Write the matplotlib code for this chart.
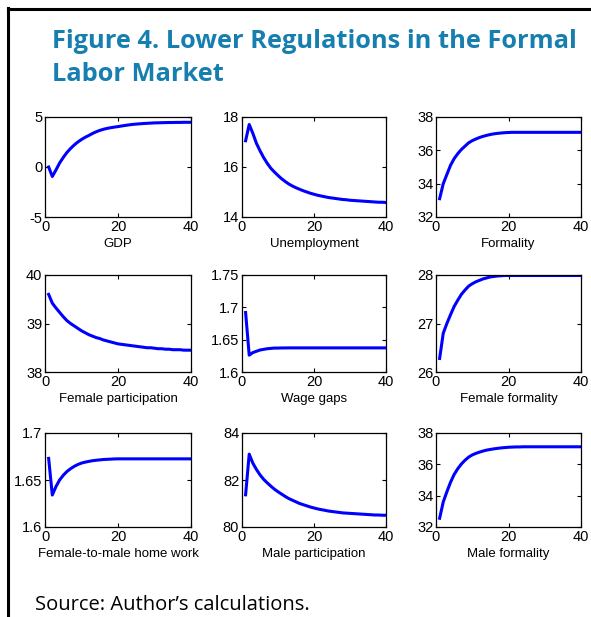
import numpy as np
import matplotlib
matplotlib.use("Agg")
import matplotlib.pyplot as plt
from matplotlib.lines import Line2D

# Impulse responses, periods 1..40
periods = np.arange(1, 41)

gdp = [0.0, -0.95, -0.3, 0.4, 0.95, 1.45, 1.85, 2.2, 2.5, 2.75,
       2.97, 3.15, 3.35, 3.52, 3.66, 3.77, 3.86, 3.93, 3.99, 4.04,
       4.1, 4.16, 4.21, 4.26, 4.29, 4.32, 4.35, 4.37, 4.39, 4.41,
       4.42, 4.43, 4.44, 4.45, 4.45, 4.46, 4.46, 4.47, 4.47, 4.47]
unemployment = [17.05, 17.7, 17.35, 16.95, 16.65, 16.38, 16.15, 15.95, 15.8, 15.66,
                15.53, 15.42, 15.32, 15.24, 15.17, 15.11, 15.05, 15.0, 14.95, 14.91,
                14.87, 14.84, 14.81, 14.78, 14.76, 14.74, 14.72, 14.7, 14.69, 14.67,
                14.66, 14.65, 14.64, 14.63, 14.62, 14.61, 14.6, 14.59, 14.59, 14.58]
formality = [33.1, 34.0, 34.55, 35.1, 35.5, 35.8, 36.05, 36.25, 36.45, 36.58,
             36.68, 36.77, 36.84, 36.9, 36.95, 36.99, 37.02, 37.04, 37.06, 37.07,
             37.08, 37.08, 37.08, 37.08, 37.08, 37.08, 37.08, 37.08, 37.08, 37.08,
             37.08, 37.08, 37.08, 37.08, 37.08, 37.08, 37.08, 37.08, 37.08, 37.08]
female_participation = [39.6, 39.42, 39.32, 39.23, 39.14, 39.06, 39.0, 38.95, 38.9, 38.85,
                        38.81, 38.77, 38.74, 38.71, 38.69, 38.66, 38.64, 38.62, 38.6, 38.58,
                        38.57, 38.56, 38.55, 38.54, 38.53, 38.52, 38.51, 38.5, 38.5, 38.49,
                        38.48, 38.48, 38.47, 38.47, 38.46, 38.46, 38.46, 38.45, 38.45, 38.45]
wage_gaps = [1.692, 1.626, 1.630, 1.632, 1.634, 1.635, 1.636, 1.6365, 1.637, 1.637,
             1.6372, 1.6372, 1.6373, 1.6373, 1.6373, 1.6373, 1.6373, 1.6373, 1.6373, 1.6373,
             1.6373, 1.6373, 1.6373, 1.6373, 1.6373, 1.6373, 1.6373, 1.6373, 1.6373, 1.6373,
             1.6373, 1.6373, 1.6373, 1.6373, 1.6373, 1.6373, 1.6373, 1.6373, 1.6373, 1.6373]
female_formality = [26.28, 26.8, 27.0, 27.18, 27.35, 27.48, 27.6, 27.69, 27.77, 27.82,
                    27.86, 27.89, 27.92, 27.94, 27.96, 27.97, 27.98, 27.985, 27.99, 27.99,
                    27.99, 27.99, 27.99, 27.99, 27.99, 27.99, 27.99, 27.99, 27.99, 27.99,
                    27.99, 27.99, 27.99, 27.99, 27.99, 27.99, 27.99, 27.99, 27.99, 27.99]
home_work = [1.673, 1.634, 1.643, 1.650, 1.655, 1.659, 1.662, 1.6645, 1.6665, 1.668,
             1.669, 1.6698, 1.6705, 1.671, 1.6714, 1.6718, 1.672, 1.6722, 1.6724, 1.6725,
             1.6725, 1.6725, 1.6725, 1.6725, 1.6725, 1.6725, 1.6725, 1.6725, 1.6725, 1.6725,
             1.6725, 1.6725, 1.6725, 1.6725, 1.6725, 1.6725, 1.6725, 1.6725, 1.6725, 1.6725]
male_participation = [81.37, 83.1, 82.72, 82.45, 82.22, 82.03, 81.88, 81.74, 81.61, 81.5,
                      81.4, 81.3, 81.21, 81.14, 81.07, 81.0, 80.95, 80.9, 80.85, 80.81,
                      80.77, 80.74, 80.71, 80.68, 80.66, 80.64, 80.62, 80.6, 80.59, 80.58,
                      80.57, 80.56, 80.55, 80.54, 80.53, 80.52, 80.51, 80.51, 80.5, 80.5]
male_formality = [32.56, 33.6, 34.25, 34.85, 35.35, 35.72, 36.02, 36.26, 36.46, 36.6,
                  36.7, 36.78, 36.85, 36.91, 36.95, 36.99, 37.02, 37.05, 37.07, 37.09,
                  37.1, 37.11, 37.11, 37.12, 37.12, 37.12, 37.12, 37.12, 37.12, 37.12,
                  37.12, 37.12, 37.12, 37.12, 37.12, 37.12, 37.12, 37.12, 37.12, 37.12]

labels = ["GDP", "Unemployment", "Formality",
          "Female participation", "Wage gaps", "Female formality",
          "Female-to-male home work", "Male participation", "Male formality"]
series = [gdp, unemployment, formality,
          female_participation, wage_gaps, female_formality,
          home_work, male_participation, male_formality]
yticks = [[-5, 0, 5], [14, 16, 18], [32, 34, 36, 38],
          [38, 39, 40], [1.6, 1.65, 1.7, 1.75], [26, 27, 28],
          [1.6, 1.65, 1.7], [80, 82, 84], [32, 34, 36, 38]]

W, H = 591, 617
fig = plt.figure(figsize=(W / 100, H / 100), dpi=100)

# axes boxes in pixels (left, right) and (top, bottom)
cols = [(45, 191), (242, 386), (436, 581)]
rows = [(117, 217), (275, 372), (433, 527)]

for i in range(9):
    x0, x1 = cols[i % 3]
    y0, y1 = rows[i // 3]
    ax = fig.add_axes([x0 / W, 1 - y1 / H, (x1 - x0) / W, (y1 - y0) / H])
    ax.plot(periods, series[i], color="#0000ff", lw=2.2)
    ax.set_xlim(0, 40)
    ax.set_ylim(yticks[i][0], yticks[i][-1])
    ax.set_xticks([0, 20, 40])
    ax.set_yticks(yticks[i])
    ax.set_yticklabels([f"{t:g}" for t in yticks[i]])
    ax.tick_params(direction="in", top=True, right=True, length=3, width=0.8,
                   labelsize=10.5, pad=2)
    for lab in ax.get_xticklabels() + ax.get_yticklabels():
        lab.set_family("Liberation Sans")
    ax.set_xlabel(labels[i], fontsize=9.5, family="Liberation Sans", labelpad=3)
    for s in ax.spines.values():
        s.set_linewidth(0.9)

title_style = dict(fontsize=18.3, fontweight="bold", color="#177fb0",
                   family="Open Sans", va="baseline")
fig.text(52 / W, 1 - 48 / H, "Figure 4. Lower Regulations in the Formal", **title_style)
fig.text(52 / W, 1 - 81 / H, "Labor Market", **title_style)
fig.text(35 / W, 1 - 610 / H, "Source: Author\u2019s calculations.",
         fontsize=14.5, color="black", family="Open Sans", va="baseline")

# frame around the figure box
fig.add_artist(Line2D([8 / W, 8 / W], [0, 1 - 8 / H], color="black", lw=2.2,
                      transform=fig.transFigure))
fig.add_artist(Line2D([8 / W, 1], [1 - 9 / H, 1 - 9 / H], color="black", lw=2.2,
                      transform=fig.transFigure))

fig.savefig("out.png", dpi=100)
